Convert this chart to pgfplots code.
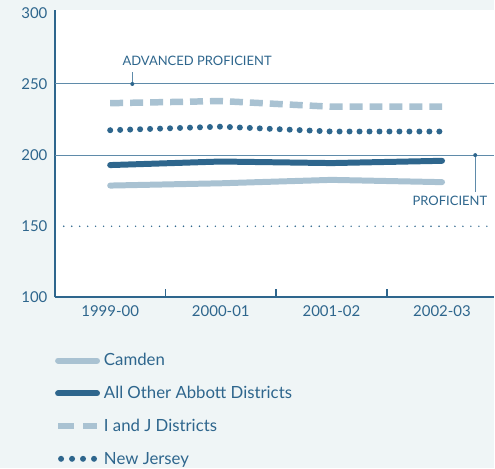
\documentclass[border=0pt]{standalone}
\usepackage{pgfplots}
\pgfplotsset{compat=1.18}
\usepackage{fontspec}
\setmainfont{Lato}
\definecolor{dk}{HTML}{2E668D}
\definecolor{lt}{HTML}{A9C2D2}
\definecolor{bg}{HTML}{EFF5F6}
\definecolor{rf}{HTML}{5F8BAA}
\begin{document}
\begin{tikzpicture}[x=1pt,y=1pt]
\fill[bg] (-55,-171) rectangle (440,298);
\begin{axis}[at={(0,0)}, anchor=south west, scale only axis,
  width=440pt, height=288pt,
  xmin=-0.5, xmax=3.47, ymin=100, ymax=302,
  axis background/.style={fill=white},
  axis x line*=bottom, axis y line*=left,
  axis line style={-, dk, line width=2pt},
  xtick={0,1,2,3}, xticklabels={1999-00,2000-01,2001-02,2002-03},
  minor xtick={0.5,1.5,2.5},
  ytick={100,150,200,250,300},
  major tick length=0pt, minor tick length=8pt, tick align=inside,
  tick style={dk, line width=2pt},
  ticklabel style={text=dk, font=\fontsize{15}{17}\selectfont},
  /pgf/number format/assume math mode=true,
  xticklabel style={yshift=-5pt},
  yticklabel style={xshift=-4pt},
  clip=false,
  legend style={at={(0,-0.188)}, anchor=north west, draw=none, fill=none,
    inner sep=0pt, row sep=15pt, font=\fontsize{16.8}{19}\selectfont,
    text=dk, cells={anchor=west}, nodes={inner xsep=1pt}},
  legend image code/.code={\draw[#1] (0pt,0pt) -- (39pt,0pt);},
]
\addplot[rf, line width=1pt, forget plot] coordinates {(-0.5,250) (3.47,250)};
\addplot[rf, line width=1pt, forget plot] coordinates {(-0.5,200) (3.47,200)};
\addplot[dk, line width=1.6pt, line cap=round, dash pattern=on 0pt off 8pt, forget plot] coordinates {(-0.42,150) (3.42,150)};
% Camden
\addplot[lt, line width=6pt, line cap=round, forget plot] coordinates {(0,178.6) (1,180.2) (2,182.6) (3,181)};
% All Other Abbott
\addplot[dk, line width=6pt, line cap=round, forget plot] coordinates {(0,193) (1,195.5) (2,194.4) (3,196)};
% I and J
\addplot[lt, line width=6.5pt, dash pattern=on 13pt off 7pt, forget plot] coordinates {(0,236.5) (1,238) (2,234) (3,234)};
% New Jersey
\addplot[dk, line width=6pt, line cap=round, dash pattern=on 0pt off 10pt, forget plot] coordinates {(0,217.5) (1,220) (2,216.6) (3,216.6)};
\addlegendimage{lt, line width=6pt, line cap=round}
\addlegendentry{Camden}
\addlegendimage{dk, line width=6pt, line cap=round}
\addlegendentry{All Other Abbott Districts}
\addlegendimage{lt, line width=6pt, dash pattern=on 16pt off 9pt}
\addlegendentry{I and J Districts}
\addlegendimage{dk, line width=6pt, line cap=round, dash pattern=on 0pt off 11pt, xshift=3pt}
\addlegendentry{New Jersey}
\draw[rf, line width=1pt] (axis cs:0.2,250) -- (axis cs:0.2,258.4);
\fill[dk] (axis cs:0.2,250) circle (2pt);
\node[anchor=west, text=dk, inner sep=0pt, font=\fontsize{13}{15}\selectfont] at (axis cs:0.11,266.5) {ADVANCED PROFICIENT};
\draw[rf, line width=1pt] (axis cs:3.3,200) -- (axis cs:3.3,174);
\fill[dk] (axis cs:3.3,200) circle (2pt);
\node[anchor=east, text=dk, inner sep=0pt, font=\fontsize{13}{15}\selectfont] at (axis cs:3.41,167.7) {PROFICIENT};
\end{axis}
\end{tikzpicture}
\end{document}
